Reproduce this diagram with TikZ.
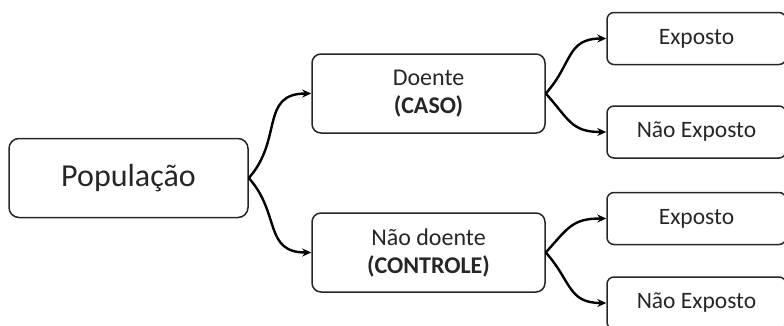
\documentclass[tikz,border=0pt]{standalone}
\usepackage{fontspec}
\setmainfont{Carlito}
\usetikzlibrary{arrows.meta}
\begin{document}
\begin{tikzpicture}[x=1pt,y=-1pt,
  box/.style={draw=black!85, line width=1.5pt, rounded corners=9pt, align=center,
    inner sep=0pt, text=black!85},
  bigbox/.style={box, minimum width=233pt, minimum height=79pt,
    font=\fontsize{24}{28}\selectfont},
  leafbox/.style={box, rounded corners=7pt, minimum width=179pt, minimum height=52pt,
    font=\fontsize{23.5}{28}\selectfont},
  conn/.style={line width=2.4pt, -{Stealth[length=9pt,width=8pt]}, black},
  up/.style={out=48,in=180,looseness=1.25},
  down/.style={out=-48,in=180,looseness=1.25}]
  \useasboundingbox (0,0) rectangle (784,325);
  \clip (0,0) rectangle (784,325);

  % root
  \node[box, minimum width=239pt, minimum height=79pt, rounded corners=10pt,
    font=\fontsize{32}{38}\selectfont] (pop) at (128.5,178) {População};

  % second level
  \node[bigbox] (caso) at (428.5,93.5) {Doente\\\textbf{(CASO)}};
  \node[bigbox] (ctrl) at (428.5,252.5) {Não doente\\\textbf{(CONTROLE)}};

  % leaves
  \node[leafbox] (e1) at (696.5,38.5) {Exposto};
  \node[leafbox] (n1) at (696.5,132) {Não Exposto};
  \node[leafbox] (e2) at (696.5,218.5) {Exposto};
  \node[leafbox] (n2) at (696.5,303) {Não Exposto};

  % connectors
  \draw[conn] (pop.east) to[up] (caso.west);
  \draw[conn] (pop.east) to[down] (ctrl.west);
  \draw[conn] (caso.east) to[up] (e1.west);
  \draw[conn] (caso.east) to[down] (n1.west);
  \draw[conn] (ctrl.east) to[up] (e2.west);
  \draw[conn] (ctrl.east) to[down] (n2.west);
\end{tikzpicture}
\end{document}
